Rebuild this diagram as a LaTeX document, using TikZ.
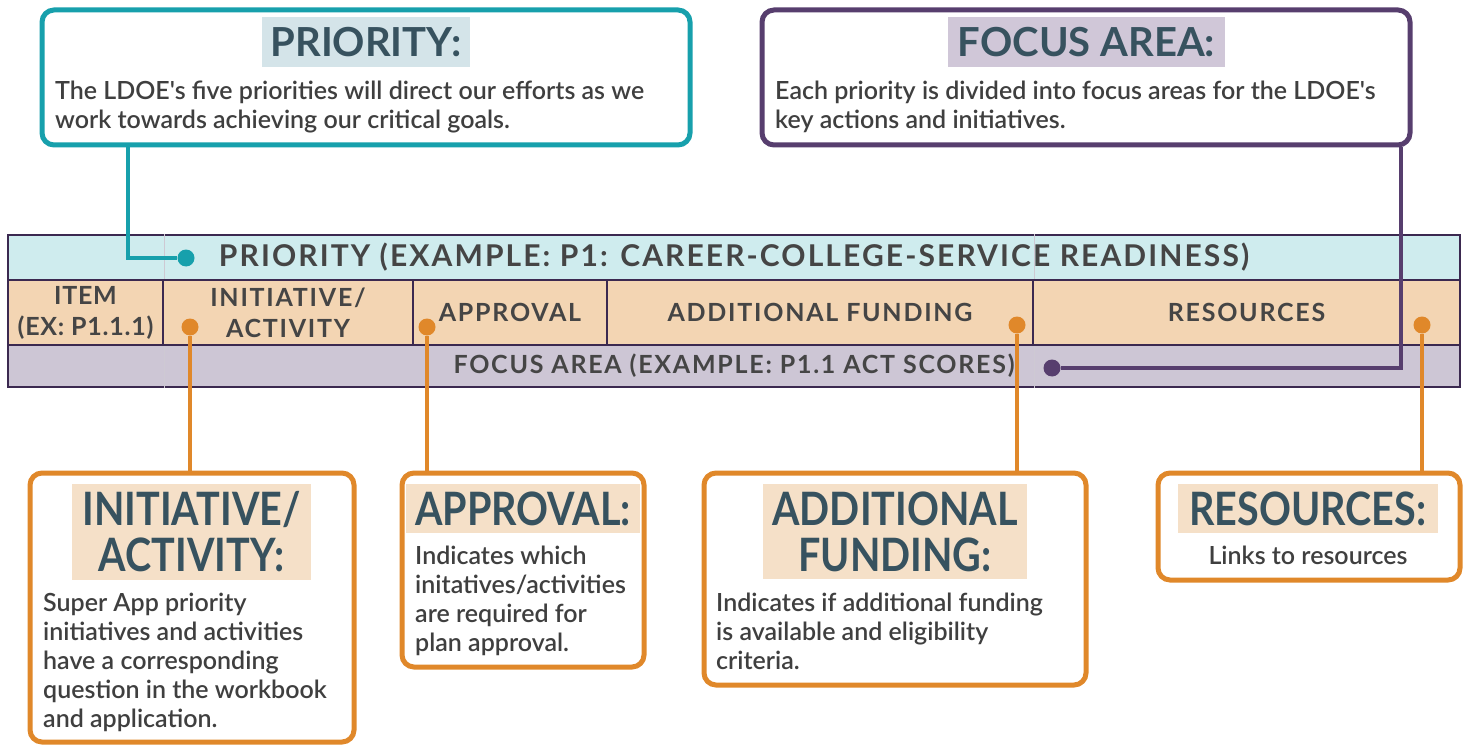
\documentclass[tikz,border=0pt]{standalone}
\usepackage{fontspec}
\setmainfont{Lato}
\newfontfamily\headfont{Lato}
\newfontfamily\headcfont[FakeStretch=0.86]{Lato}
\newfontfamily\bodyfont{Lato Semibold}
\newfontfamily\tablefont[LetterSpace=7]{Lato}
\newfontfamily\itemfont[LetterSpace=3]{Lato}

\definecolor{tealline}{HTML}{17A0AC}
\definecolor{purpleline}{HTML}{573E6E}
\definecolor{orangeline}{HTML}{E0882A}
\definecolor{headtext}{HTML}{37525F}
\definecolor{bodytext}{HTML}{3F3F3F}
\definecolor{tealhl}{HTML}{D4E4E9}
\definecolor{purplehl}{HTML}{D0C7D8}
\definecolor{peachhl}{HTML}{F5E0C8}
\definecolor{rowtop}{HTML}{CFECEE}
\definecolor{rowmid}{HTML}{F3D5B3}
\definecolor{rowbot}{HTML}{CDC6D5}
\definecolor{gridline}{HTML}{3B2950}
\definecolor{celltext}{HTML}{454545}

\tikzstyle{callout} = [rectangle, rounded corners=12pt, line width=5pt, fill=white, inner sep=0pt]
\tikzstyle{headbar} = [rectangle, inner sep=0pt, text=headtext, align=center]
\tikzstyle{body} = [anchor=north west, inner sep=0pt, align=left, text=bodytext, font=\bodyfont\fontsize{25}{29}\selectfont]
\tikzstyle{row} = [rectangle, draw=gridline, line width=2pt, inner sep=0pt, text=celltext, align=center]
\tikzstyle{cell} = [row, fill=rowmid, minimum height=65pt, font=\tablefont\bfseries\fontsize{25}{31}\selectfont]
\tikzstyle{link} = [line width=4pt]
\tikzstyle{dot} = [circle, inner sep=0pt, minimum size=17pt]

\begin{document}
\begin{tikzpicture}[x=1pt, y=-1pt]
\useasboundingbox (0,0) rectangle (1467,746);

% table
\node (toprow) [row, fill=rowtop, minimum width=1452pt, minimum height=45pt, font=\tablefont\bfseries\fontsize{30}{34}\selectfont] at (734,257.5) {\raisebox{-2pt}{PRIORITY (EXAMPLE: P1: CAREER-COLLEGE-SERVICE READINESS)}};
\node (botrow) [row, fill=rowbot, minimum width=1452pt, minimum height=42pt, font=\tablefont\bfseries\fontsize{25}{30}\selectfont] at (734,366) {FOCUS AREA (EXAMPLE: P1.1 ACT SCORES)};
\node (item) [cell, minimum width=155pt, font=\itemfont\bfseries\fontsize{25}{31}\selectfont] at (85.5,312.5) {ITEM\\(EX: P1.1.1)};
\node (initiative) [cell, minimum width=250pt] at (288,312.5) {INITIATIVE/\\ACTIVITY};
\node (approval) [cell, minimum width=194pt] at (510,312.5) {APPROVAL};
\node (funding) [cell, minimum width=426pt] at (820,312.5) {ADDITIONAL FUNDING};
\node (resources) [cell, minimum width=427pt] at (1246.5,312.5) {RESOURCES};
\draw[gridline!25, line width=1pt] (item.north east |- toprow.north) -- (item.north east);
\draw[gridline!25, line width=1pt] (funding.north east |- toprow.north) -- (funding.north east);
\draw[gridline!25, line width=1pt] (item.south east) -- (item.south east |- botrow.south);
\draw[gridline!25, line width=1pt] (funding.south east) -- (funding.south east |- botrow.south);

% callouts on top
\node (priority) [callout, draw=tealline, minimum width=648pt, minimum height=135pt] at (366,77.5) {};
\node (priorityhead) [headbar, fill=tealhl, minimum width=208pt, minimum height=50pt, font=\headfont\bfseries\fontsize{40}{46}\selectfont] at (366,42) {PRIORITY:};
\node (prioritytext) [body] at (55,81) {The LDOE's five priorities will direct our efforts as we\\work towards achieving our critical goals.};

\node (focus) [callout, draw=purpleline, minimum width=648pt, minimum height=135pt] at (1086,77.5) {};
\node (focushead) [headbar, fill=purplehl, minimum width=277pt, minimum height=50pt, font=\headfont\bfseries\fontsize{40}{46}\selectfont] at (1086.5,42) {FOCUS AREA:};
\node (focustext) [body] at (775,81) {Each priority is divided into focus areas for the LDOE's\\key actions and initiatives.};

% callouts below
\node (initbox) [callout, draw=orangeline, minimum width=324pt, minimum height=269pt] at (192,607.5) {};
\node (inithead) [headbar, fill=peachhl, minimum width=239pt, minimum height=96pt, font=\headcfont\bfseries\fontsize{46}{46}\selectfont] at (191.5,532) {INITIATIVE/\\ACTIVITY:};
\node (inittext) [body] at (43,593) {Super App priority\\initiatives and activities\\have a corresponding\\question in the workbook\\and application.};

\node (apprbox) [callout, draw=orangeline, minimum width=242pt, minimum height=194pt] at (523,570) {};
\node (apprhead) [headbar, fill=peachhl, minimum width=234pt, minimum height=49pt, font=\headcfont\bfseries\fontsize{46}{46}\selectfont] at (523,508.5) {APPROVAL:};
\node (apprtext) [body] at (415,546) {Indicates which\\initatives/activities\\are required for\\plan approval.};

\node (fundbox) [callout, draw=orangeline, minimum width=382pt, minimum height=212pt] at (895,579) {};
\node (fundhead) [headbar, fill=peachhl, minimum width=264pt, minimum height=95pt, font=\headcfont\bfseries\fontsize{46}{46}\selectfont] at (895,531.5) {ADDITIONAL\\FUNDING:};
\node (fundtext) [body] at (716,593) {Indicates if additional funding\\is available and eligibility\\criteria.};

\node (resbox) [callout, draw=orangeline, minimum width=302pt, minimum height=107pt] at (1309,526.5) {};
\node (reshead) [headbar, fill=peachhl, minimum width=260pt, minimum height=49pt, font=\headcfont\bfseries\fontsize{46}{46}\selectfont] at (1308,508.5) {RESOURCES:};
\node (restext) [body, anchor=north] at (1308,546) {Links to resources};

% dots
\node (prioritydot) [dot, fill=tealline] at (186,258) {};
\node (focusdot) [dot, fill=purpleline] at (1052,368) {};
\node (initdot) [dot, fill=orangeline] at (190,327) {};
\node (apprdot) [dot, fill=orangeline] at (427,327) {};
\node (funddot) [dot, fill=orangeline] at (1017,325) {};
\node (resdot) [dot, fill=orangeline] at (1422,325) {};

% connectors
\draw[link, tealline] ([xshift=88pt]priority.south west) |- (prioritydot);
\draw[link, purpleline] ([xshift=-12pt]focus.south east) |- (focusdot);
\draw[link, orangeline] (initdot) -- (initdot |- initbox.north);
\draw[link, orangeline] (apprdot) -- (apprdot |- apprbox.north);
\draw[link, orangeline] (funddot) -- (funddot |- fundbox.north);
\draw[link, orangeline] (resdot) -- (resdot |- resbox.north);

\end{tikzpicture}
\end{document}
